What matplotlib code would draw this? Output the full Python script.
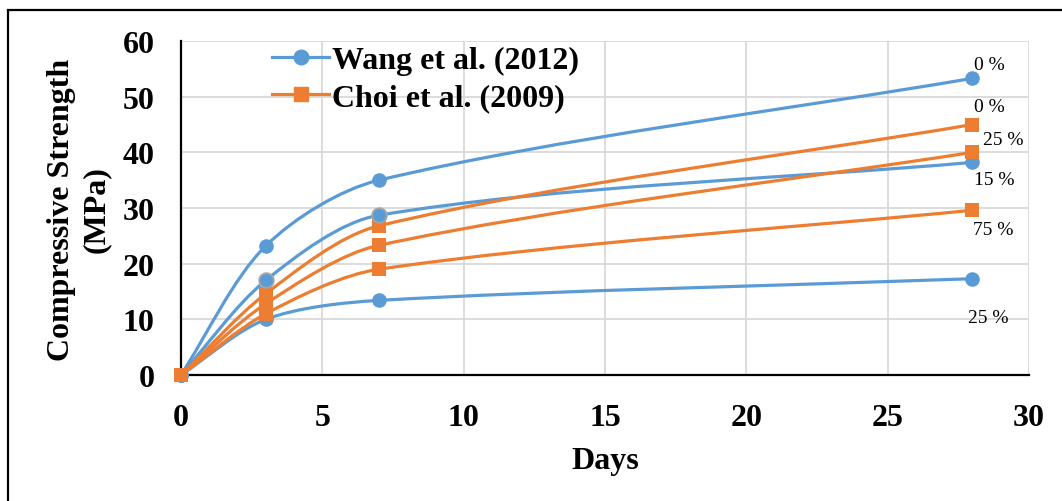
import numpy as np
import matplotlib
matplotlib.use("Agg")
from matplotlib import pyplot as plt
from matplotlib.path import Path
from matplotlib.patches import PathPatch, Rectangle

days = [0, 3, 7, 28]

wang_0 = [0, 23.2, 35.0, 53.3]
wang_15 = [0, 17.0, 28.7, 38.2]
wang_25 = [0, 10.0, 13.4, 17.3]

choi_0 = [0, 14.6, 26.8, 45.0]
choi_25 = [0, 12.8, 23.3, 40.0]
choi_75 = [0, 11.0, 19.0, 29.6]

BLUE = "#5B9BD5"
ORANGE = "#ED7D31"
SERIF = "Liberation Serif"

XMAX, YMAX = 30, 60


def smooth_path(xs, ys, sx, sy, k=0.3):
    """Bezier path through the points, like a spreadsheet 'smoothed line'.
    Tangents are worked out in screen-like units so unequal spacing doesn't loop."""
    p = np.column_stack([np.asarray(xs, float) * sx, np.asarray(ys, float) * sy])
    n = len(p)
    tang = []
    for i in range(n):
        a = p[max(i - 1, 0)]
        b = p[min(i + 1, n - 1)]
        d = b - a
        tang.append(d / np.linalg.norm(d))
    verts = [p[0]]
    codes = [Path.MOVETO]
    for i in range(n - 1):
        seg = np.linalg.norm(p[i + 1] - p[i])
        verts += [p[i] + tang[i] * seg * k, p[i + 1] - tang[i + 1] * seg * k, p[i + 1]]
        codes += [Path.CURVE4] * 3
    verts = np.array(verts) / [sx, sy]
    return Path(verts, codes)


fig = plt.figure(figsize=(10.62, 5.02), dpi=100)
ax = fig.add_axes([0.1704, 0.251, 0.7985, 0.6653])

# outer frame of the chart area (runs off the right and bottom)
fig.patches.append(Rectangle((8 / 1062, -0.5), 2.0, 1.5 - 11 / 502, transform=fig.transFigure,
                             fill=False, edgecolor="black", linewidth=1.6))

sx, sy = 848 / XMAX, 334 / YMAX

series = [
    (wang_0, BLUE, "o", "0 %", (17, 14)),
    (wang_15, BLUE, "o", "15 %", (22, -17)),
    (wang_25, BLUE, "o", "25 %", (16, -39)),
    (choi_0, ORANGE, "s", "0 %", (17, 18)),
    (choi_25, ORANGE, "s", "25 %", (31, 13)),
    (choi_75, ORANGE, "s", "75 %", (21, -19)),
]

for vals, col, mk, lab, off in series:
    ax.add_patch(PathPatch(smooth_path(days, vals, sx, sy), facecolor="none", edgecolor=col,
                           linewidth=2.3, capstyle="round", zorder=3))
    ax.plot(days, vals, linestyle="none", marker=mk, markersize=10.5 if mk == "o" else 10,
            color=col, markeredgewidth=0, zorder=4, clip_on=False)
    ax.annotate(lab, (days[-1], vals[-1]), xytext=off, textcoords="offset pixels",
                ha="center", va="center", fontsize=14, family=SERIF, zorder=5)

# the 15 % markers at 3 and 7 days carry a grey rim
ax.plot(days[1:3], wang_15[1:3], linestyle="none", marker="o", markersize=10.5, color=BLUE,
        markeredgecolor="#A5A5A5", markeredgewidth=1.3, zorder=4.5)

# legend handles
ax.plot([], [], color=BLUE, marker="o", markersize=10.5, linewidth=2.3, label="Wang et al. (2012)")
ax.plot([], [], color=ORANGE, marker="s", markersize=10, linewidth=2.3, label="Choi et al. (2009)")
ax.legend(loc="upper left", bbox_to_anchor=(0.092, 1.025), frameon=False, handlelength=1.8,
          handletextpad=0.1, labelspacing=0.25, borderaxespad=0,
          prop={"family": SERIF, "weight": "bold", "size": 23})

ax.set_xlim(0, XMAX)
ax.set_ylim(0, YMAX)
ax.set_xticks(range(0, 31, 5))
ax.set_yticks(range(0, 61, 10))
ax.grid(True, color="#D9D9D9", linewidth=1.3)
ax.set_axisbelow(True)
for side in ("top", "right"):
    ax.spines[side].set_visible(False)
for side in ("left", "bottom"):
    ax.spines[side].set_linewidth(1.6)
    ax.spines[side].set_zorder(2)
ax.tick_params(length=0, labelsize=23)
ax.tick_params(axis="y", pad=19)
ax.tick_params(axis="x", pad=20)
for t in ax.get_xticklabels() + ax.get_yticklabels():
    t.set_family(SERIF)
    t.set_fontweight("bold")

ax.set_xlabel("Days", family=SERIF, fontweight="bold", fontsize=23, labelpad=10)
fig.text(79 / 1062, 1 - 210 / 502, "Compressive Strength\n(MPa)", rotation=90, ha="center",
         va="center", family=SERIF, fontweight="bold", fontsize=23, linespacing=1.25)

fig.savefig("out.png", dpi=100)
